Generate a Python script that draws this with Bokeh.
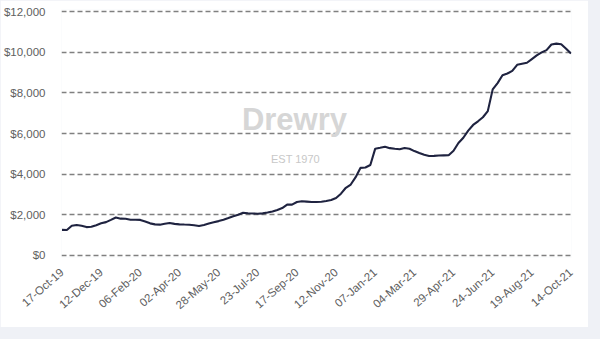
from bokeh.plotting import figure
from bokeh.models import Range1d, FixedTicker, NumeralTickFormatter, Label
from bokeh.layouts import column
from bokeh.embed import file_html
from bokeh.resources import INLINE

# Weekly composite freight rate (USD per 40ft), 17-Oct-19 .. 14-Oct-21
rates = [
    1260, 1250, 1460, 1500, 1460, 1395, 1410, 1490, 1580, 1640,
    1750, 1870, 1810, 1806, 1760, 1757, 1750, 1670, 1580, 1530,
    1515, 1560, 1600, 1555, 1530, 1520, 1512, 1490, 1450, 1500,
    1570, 1630, 1690, 1760, 1840, 1925, 2005, 2100, 2080, 2065,
    2055, 2070, 2110, 2165, 2240, 2330, 2500, 2500, 2630, 2670,
    2650, 2630, 2627, 2640, 2680, 2730, 2830, 3040, 3330, 3490,
    3850, 4310, 4330, 4450, 5254, 5300, 5350, 5280, 5250, 5225,
    5285, 5250, 5135, 5040, 4950, 4893, 4900, 4920, 4926, 4930,
    5150, 5530, 5790, 6140, 6420, 6600, 6800, 7100, 8170, 8480,
    8867, 8950, 9080, 9380, 9430, 9480, 9660, 9840, 9990, 10100,
    10380, 10420, 10390, 10170, 9930,
]
weeks = list(range(len(rates)))

tick_positions = [0, 8, 16, 24, 32, 40, 48, 56, 64, 72, 80, 88, 96, 104]
tick_labels = [
    "17-Oct-19", "12-Dec-19", "06-Feb-20", "02-Apr-20", "28-May-20",
    "23-Jul-20", "17-Sep-20", "12-Nov-20", "07-Jan-21", "04-Mar-21",
    "29-Apr-21", "24-Jun-21", "19-Aug-21", "14-Oct-21",
]
y_ticks = [0, 2000, 4000, 6000, 8000, 10000, 12000]

p = figure(
    width=588, height=327,
    x_range=Range1d(-0.1, 104.1), y_range=Range1d(-100, 12100),
    output_backend="svg", toolbar_location=None,
    min_border_left=60, min_border_right=17, min_border_top=9, min_border_bottom=70,
)
p.background_fill_color = "white"
p.border_fill_color = "white"
p.outline_line_color = None

p.line(weeks, rates, line_color="#1f2340", line_width=2.1)

# watermark
p.add_layout(Label(x=47.5, y=5813, text="Drewry", text_align="center",
                   text_font="Liberation Sans", text_font_style="bold",
                   text_font_size="31px", text_color="#d6d6d6"))
p.add_layout(Label(x=47.7, y=4433, text="EST 1970", text_align="center",
                   text_font="Liberation Sans", text_font_size="11px",
                   text_color="#c8c8c8"))

# grid
p.xgrid.grid_line_color = None
p.ygrid.ticker = FixedTicker(ticks=y_ticks)
p.ygrid.grid_line_color = "#808080"
p.ygrid.grid_line_width = 1.5
p.ygrid.grid_line_dash = "5 3"

# y axis
p.yaxis.ticker = FixedTicker(ticks=y_ticks)
p.yaxis.formatter = NumeralTickFormatter(format="$0,0")
p.yaxis.axis_line_color = None
p.yaxis.major_tick_line_color = None
p.yaxis.minor_tick_line_color = None
p.yaxis.major_label_standoff = 10
p.yaxis.major_label_text_font = "Liberation Sans"
p.yaxis.major_label_text_font_size = "11.5px"
p.yaxis.major_label_text_color = "#606060"

# x axis
p.xaxis.ticker = FixedTicker(ticks=tick_positions)
p.xaxis.major_label_overrides = {t: l for t, l in zip(tick_positions, tick_labels)}
p.xaxis.major_label_orientation = 0.72
p.xaxis.axis_line_color = None
p.xaxis.major_tick_line_color = None
p.xaxis.minor_tick_line_color = None
p.xaxis.major_label_standoff = 7
p.xaxis.major_label_text_font = "Liberation Sans"
p.xaxis.major_label_text_font_size = "11.5px"
p.xaxis.major_label_text_color = "#606060"

layout = column(p, width=600, height=339,
                styles={"background-color": "#eff1f6"})

open("out.html", "w").write(file_html(layout, INLINE))
